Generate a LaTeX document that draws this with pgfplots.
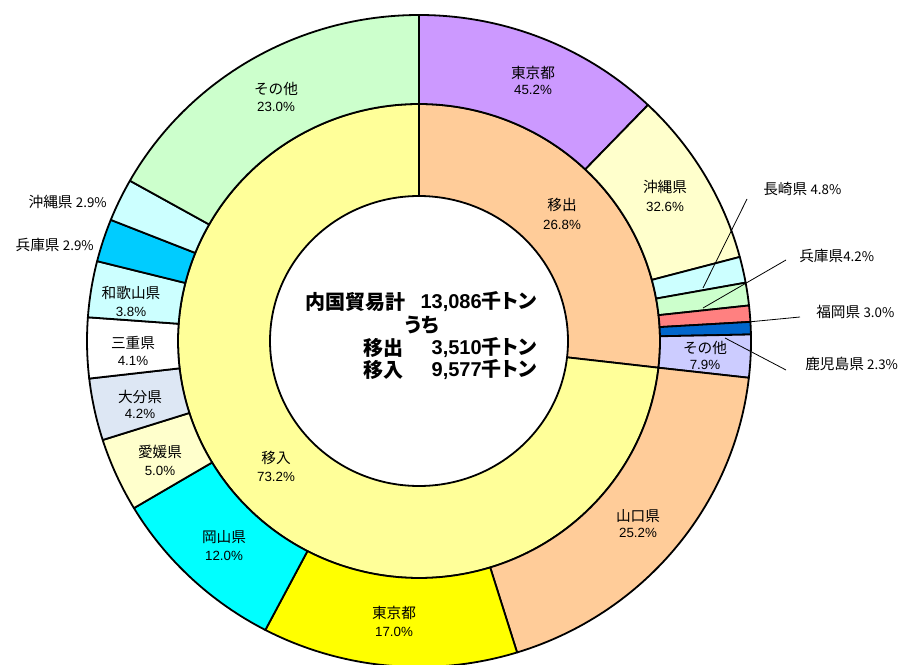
\documentclass[border=0pt]{standalone}
\usepackage{fontspec}
\setmainfont{Liberation Sans}
\newfontfamily\cjk{Noto Sans CJK JP}
\newfontfamily\cjkp[RawFeature=+palt]{Noto Sans CJK JP}
\usepackage{pgfplots}
\usepackage{pgfplotstable}
\pgfplotsset{compat=1.18}

\definecolor{cA1}{HTML}{CC99FF}
\definecolor{cA2}{HTML}{FFFFCC}
\definecolor{cA3}{HTML}{CCFFFF}
\definecolor{cA4}{HTML}{CCFFCC}
\definecolor{cA5}{HTML}{FF8080}
\definecolor{cA6}{HTML}{0066CC}
\definecolor{cA7}{HTML}{CCCCFF}
\definecolor{cB1}{HTML}{FFCC99}
\definecolor{cB2}{HTML}{FFFF00}
\definecolor{cB3}{HTML}{00FFFF}
\definecolor{cB4}{HTML}{FFFFCC}
\definecolor{cB5}{HTML}{DDE7F4}
\definecolor{cB6}{HTML}{FFFFFF}
\definecolor{cB7}{HTML}{CCFFFF}
\definecolor{cB8}{HTML}{00CCFF}
\definecolor{cB9}{HTML}{CCFFFF}
\definecolor{cB10}{HTML}{CCFFCC}
\definecolor{cI1}{HTML}{FFCC99}
\definecolor{cI2}{HTML}{FFFF99}

% inner ring: share of total
\pgfplotstableread{
pct col
26.8 cI1
73.2 cI2
}\innerring
% outer ring, 移出 breakdown
\pgfplotstableread{
pct col
45.2 cA1
32.6 cA2
4.8 cA3
4.2 cA4
3.0 cA5
2.3 cA6
7.9 cA7
}\outA
% outer ring, 移入 breakdown
\pgfplotstableread{
pct col
25.2 cB1
17.0 cB2
12.0 cB3
5.0 cB4
4.2 cB5
4.1 cB6
3.8 cB7
2.9 cB8
2.9 cB9
23.0 cB10
}\outB

% #1 table, #2 start angle, #3 span, #4 sum, #5 #6 outer radii, #7 #8 inner radii
\newcommand\drawring[8]{%
  \pgfplotstablegetrowsof{#1}%
  \pgfmathtruncatemacro\NN{\pgfplotsretval-1}%
  \xdef\cum{#2}%
  \foreach \i in {0,...,\NN}{%
    \pgfplotstablegetelem{\i}{pct}\of{#1}%
    \pgfmathsetmacro\vv{\pgfplotsretval}%
    \pgfplotstablegetelem{\i}{col}\of{#1}%
    \edef\segcol{\pgfplotsretval}%
    \pgfmathsetmacro\aend{\cum-\vv/#4*#3}%
    \filldraw[fill=\segcol,draw=black,line width=1.35pt,line join=round]
      ([shift={(\cum:#5 and #6)}]O) arc[start angle=\cum,end angle=\aend,x radius=#5,y radius=#6]
      -- ([shift={(\aend:#7 and #8)}]O) arc[start angle=\aend,end angle=\cum,x radius=#7,y radius=#8] -- cycle;
    \xdef\cum{\aend}%
  }%
}

\newcommand\lf{\cjk\fontsize{11}{13}\selectfont}
\newcommand\pf{\fontsize{10}{12}\selectfont}
\newcommand\cf{\fontsize{15}{17}\selectfont\bfseries}
% two-line label: x, y name, y pct, name, pct
\newcommand\lab[5]{%
  \node[inner sep=0pt,font=\lf] at (axis cs:#1-419,341-#2) {#4};
  \node[inner sep=0pt,font=\pf] at (axis cs:#1-419,341-#3) {#5};
}
\newcommand\ld[4]{\draw[line width=0.6pt] (axis cs:#1-419,341-#2) -- (axis cs:#3-419,341-#4);}

\begin{document}
\begin{tikzpicture}
\begin{axis}[x=0.75pt,y=0.75pt,xmin=-419,xmax=486,ymin=-323,ymax=341,hide axis,clip=false]
\pgfplotsextra{
  \coordinate (O) at (axis cs:0,0);
  \coordinate (bl) at (axis cs:-419,-323);
  \coordinate (tr) at (axis cs:486,341);
  \drawring{\innerring}{90}{360}{100}{180.75pt}{177.75pt}{111.75pt}{108.75pt}
  \drawring{\outA}{90}{96.48}{100.0}{249pt}{244.5pt}{180.75pt}{177.75pt}
  \drawring{\outB}{-6.48}{263.52}{100.1}{249pt}{244.5pt}{180.75pt}{177.75pt}
  % labels outer ring
  \lab{533}{73}{90}{東京都}{45.2\%}
  \lab{665}{187}{207}{沖縄県}{32.6\%}
  \lab{705}{348}{365}{その他}{7.9\%}
  \lab{638}{516}{533}{山口県}{25.2\%}
  \lab{394}{613}{632}{東京都}{17.0\%}
  \lab{224}{537}{556}{岡山県}{12.0\%}
  \lab{160}{452}{471}{愛媛県}{5.0\%}
  \lab{140}{397}{414}{大分県}{4.2\%}
  \lab{133}{343}{361}{三重県}{4.1\%}
  \lab{131}{293}{312}{和歌山県}{3.8\%}
  \lab{276}{89}{107}{その他}{23.0\%}
  % inner ring labels
  \lab{562}{205}{225}{移出}{26.8\%}
  \lab{276}{458}{477}{移入}{73.2\%}
  % outside labels
  \node[inner sep=0pt,anchor=east] at (axis cs:107-419,341-202) {\lf 沖縄県 \pf 2.9\%};
  \node[inner sep=0pt,anchor=east] at (axis cs:94-419,341-245) {\lf 兵庫県 \pf 2.9\%};
  \node[inner sep=0pt,anchor=west] at (axis cs:763-419,341-189) {\lf 長崎県 \pf 4.8\%};
  \node[inner sep=0pt,anchor=west] at (axis cs:799-419,341-256) {\lf 兵庫県\pf 4.2\%};
  \node[inner sep=0pt,anchor=west] at (axis cs:816-419,341-312) {\lf 福岡県 \pf 3.0\%};
  \node[inner sep=0pt,anchor=west] at (axis cs:805-419,341-364) {\lf 鹿児島県 \pf 2.3\%};
  \ld{747}{199}{703}{288}
  \ld{786}{260}{703}{308}
  \ld{800}{317}{748}{322}
  \ld{786}{370}{725}{338}
  % centre text
  \node[inner sep=0pt,anchor=west,font=\cf] at (axis cs:305-419,341-302) {\cjkp 内国貿易計};
  \node[inner sep=0pt,anchor=east,font=\cf] at (axis cs:537-419,341-302) {13,086\cjkp 千トン};
  \node[inner sep=0pt,font=\cf] at (axis cs:422-419,341-325) {\cjkp うち};
  \node[inner sep=0pt,anchor=west,font=\cf] at (axis cs:363-419,341-348) {\cjkp 移出};
  \node[inner sep=0pt,anchor=east,font=\cf] at (axis cs:537-419,341-348) {3,510\cjkp 千トン};
  \node[inner sep=0pt,anchor=west,font=\cf] at (axis cs:363-419,341-370) {\cjkp 移入};
  \node[inner sep=0pt,anchor=east,font=\cf] at (axis cs:537-419,341-370) {9,577\cjkp 千トン};
}
\end{axis}
\pgfresetboundingbox
\path[use as bounding box] (bl) rectangle (tr);
\end{tikzpicture}
\end{document}
